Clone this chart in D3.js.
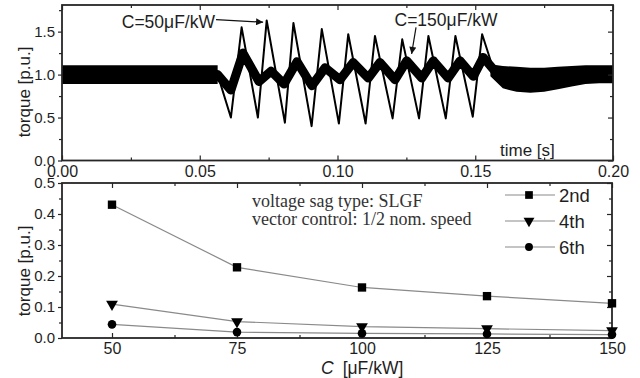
<!DOCTYPE html>
<html>
<head>
<meta charset="utf-8">
<script src="https://cdn.jsdelivr.net/npm/d3@7"></script>
<style>
  body { margin: 0; background: #fff; }
  text { font-family: "Liberation Sans", Arial, sans-serif; fill: #1e1e1e; }
  .serif { font-family: "Liberation Serif", "Times New Roman", serif; fill: #333; }
</style>
</head>
<body>
<svg id="chart" width="640" height="378"></svg>
<script>
// ---- upper panel: torque vs time ----
// steady-state ripple band before the sag
var preT = [0.0, 0.0565];
var preHi = [1.11, 1.11];
var preLo = [0.89, 0.89];
// ripple band after the sag is cleared
var postT = [0.1555, 0.160, 0.165, 0.170, 0.175, 0.180, 0.185, 0.190, 0.195, 0.200];
var postHi = [1.12, 1.10, 1.09, 1.08, 1.08, 1.09, 1.10, 1.11, 1.11, 1.11];
var postLo = [0.98, 0.84, 0.80, 0.79, 0.80, 0.83, 0.86, 0.89, 0.90, 0.90];
// C = 50 uF/kW (thin trace, large swing)
var c50T = [0.0550, 0.0565, 0.0613, 0.0652, 0.0711, 0.0743, 0.0809, 0.0840, 0.0906, 0.0943,
            0.1005, 0.1039, 0.1102, 0.1136, 0.1200, 0.1235, 0.1296, 0.1330, 0.1393, 0.1428,
            0.1491, 0.1525, 0.1560, 0.1580];
var c50V = [1.00, 1.00, 0.50, 1.55, 0.50, 1.63, 0.44, 1.60, 0.40, 1.53,
            0.43, 1.47, 0.43, 1.45, 0.49, 1.41, 0.49, 1.45, 0.49, 1.45,
            0.51, 1.47, 1.12, 1.02];
// C = 150 uF/kW (thick trace, small swing)
var c150T = [0.0550, 0.0565, 0.0613, 0.0657, 0.0715, 0.0759, 0.0806, 0.0853, 0.0907, 0.0955,
             0.1009, 0.1057, 0.1112, 0.1154, 0.1209, 0.1251, 0.1306, 0.1348, 0.1402, 0.1445,
             0.1493, 0.1529, 0.1566, 0.1590];
var c150V = [1.00, 1.00, 0.82, 1.25, 0.92, 1.04, 0.89, 1.15, 0.87, 1.08,
             0.94, 1.14, 0.96, 1.14, 0.94, 1.16, 0.96, 1.16, 0.96, 1.16,
             0.98, 1.20, 1.06, 0.98];
var timeTicks = [0, 0.05, 0.10, 0.15, 0.20];
var timeMinor = [0.025, 0.075, 0.125, 0.175];
var torqueTicks = [0, 0.5, 1.0, 1.5];
var torqueMinor = [0.25, 0.75, 1.25, 1.75];

// ---- lower panel: harmonic torque vs capacitance ----
var capC = [50, 75, 100, 125, 150];
var h2nd = [0.430, 0.228, 0.163, 0.135, 0.112];
var h4th = [0.109, 0.053, 0.037, 0.030, 0.024];
var h6th = [0.044, 0.019, 0.015, 0.013, 0.011];
var harmNames = ["2nd", "4th", "6th"];
var capTicks = [50, 75, 100, 125, 150];
var capMinor = [62.5, 87.5, 112.5, 137.5];
var harmTicks = [0, 0.1, 0.2, 0.3, 0.4, 0.5];
var harmMinor = [0.05, 0.15, 0.25, 0.35, 0.45];

var svg = d3.select("#chart");
var ink = "#262626";

// scales
var xT = d3.scaleLinear().domain([0, 0.2]).range([62, 613]);
var yT = d3.scaleLinear().domain([0, 1.81]).range([160.5, 5]);
var xB = d3.scaleLinear().domain([40, 150]).range([62, 612]);
var yB = d3.scaleLinear().domain([0, 0.5]).range([338, 183]);

svg.append("clipPath").attr("id", "clipTop")
  .append("rect").attr("x", 62).attr("y", 5).attr("width", 551).attr("height", 155.5);

var gTop = svg.append("g").attr("clip-path", "url(#clipTop)");

var band = d3.area()
  .x(function (d) { return xT(d.t); })
  .y0(function (d) { return yT(d.lo); })
  .y1(function (d) { return yT(d.hi); });

var pre = preT.map(function (t, i) { return { t: t, hi: preHi[i], lo: preLo[i] }; });
var post = postT.map(function (t, i) { return { t: t, hi: postHi[i], lo: postLo[i] }; });

gTop.append("path").datum(pre).attr("d", band).attr("fill", "#000");
gTop.append("path").datum(post).attr("d", band).attr("fill", "#000");

var line = d3.line()
  .x(function (d) { return xT(d[0]); })
  .y(function (d) { return yT(d[1]); });

gTop.append("path")
  .datum(c150T.map(function (t, i) { return [t, c150V[i]]; }))
  .attr("d", line)
  .attr("fill", "none").attr("stroke", "#000")
  .attr("stroke-width", 9).attr("stroke-linejoin", "round");

gTop.append("path")
  .datum(c50T.map(function (t, i) { return [t, c50V[i]]; }))
  .attr("d", line)
  .attr("fill", "none").attr("stroke", "#000")
  .attr("stroke-width", 2).attr("stroke-linejoin", "round");

// axes helper: major + minor ticks, frame drawn separately
function ticks(g, axis, fs) {
  g.call(axis);
  g.select(".domain").remove();
  g.selectAll(".tick line").attr("stroke", ink).attr("stroke-width", 1.2);
  g.selectAll(".tick text").attr("font-size", fs || 15).attr("fill", "#1e1e1e")
    .style("font-family", "\"Liberation Sans\", Arial, sans-serif");
}

function panelAxes(x, y, xMaj, xMin, yMaj, yMin, xFmt, yFmt) {
  var x0 = x.range()[0], x1 = x.range()[1];
  var y0 = y.range()[0], y1 = y.range()[1];
  ticks(svg.append("g").attr("transform", "translate(0," + y0 + ")"),
    d3.axisBottom(x).tickValues(xMaj).tickFormat(xFmt).tickSizeInner(-5).tickSizeOuter(0).tickPadding(5), 16);
  ticks(svg.append("g").attr("transform", "translate(0," + y0 + ")"),
    d3.axisBottom(x).tickValues(xMin).tickFormat("").tickSizeInner(-3).tickSizeOuter(0));
  ticks(svg.append("g").attr("transform", "translate(0," + y1 + ")"),
    d3.axisTop(x).tickValues(xMaj).tickFormat("").tickSizeInner(-5).tickSizeOuter(0));
  ticks(svg.append("g").attr("transform", "translate(0," + y1 + ")"),
    d3.axisTop(x).tickValues(xMin).tickFormat("").tickSizeInner(-3).tickSizeOuter(0));
  ticks(svg.append("g").attr("transform", "translate(" + x0 + ",0)"),
    d3.axisLeft(y).tickValues(yMaj).tickFormat(yFmt).tickSizeInner(4).tickSizeOuter(0).tickPadding(3), 15);
  ticks(svg.append("g").attr("transform", "translate(" + x0 + ",0)"),
    d3.axisLeft(y).tickValues(yMin).tickFormat("").tickSizeInner(3).tickSizeOuter(0));
  ticks(svg.append("g").attr("transform", "translate(" + x1 + ",0)"),
    d3.axisRight(y).tickValues(yMaj).tickFormat("").tickSizeInner(-5).tickSizeOuter(0));
  ticks(svg.append("g").attr("transform", "translate(" + x1 + ",0)"),
    d3.axisRight(y).tickValues(yMin).tickFormat("").tickSizeInner(-3).tickSizeOuter(0));
  svg.append("rect")
    .attr("x", x0).attr("y", y1).attr("width", x1 - x0).attr("height", y0 - y1)
    .attr("fill", "none").attr("stroke", ink).attr("stroke-width", 1.8);
}

panelAxes(xT, yT, timeTicks, timeMinor, torqueTicks, torqueMinor, d3.format(".2f"), d3.format(".1f"));

// arrows + labels in the upper panel
svg.append("defs").append("marker")
  .attr("id", "arr").attr("viewBox", "0 0 10 10").attr("refX", 10).attr("refY", 5)
  .attr("markerWidth", 9).attr("markerHeight", 7).attr("markerUnits", "userSpaceOnUse")
  .attr("orient", "auto")
  .append("path").attr("d", "M0,0L10,5L0,10Z").attr("fill", "#111");

svg.append("line")
  .attr("x1", xT(0.0559)).attr("y1", yT(1.64)).attr("x2", xT(0.0730)).attr("y2", yT(1.61))
  .attr("stroke", "#111").attr("stroke-width", 1.2).attr("marker-end", "url(#arr)");
svg.append("line")
  .attr("x1", xT(0.1285)).attr("y1", yT(1.55)).attr("x2", xT(0.1269)).attr("y2", yT(1.24))
  .attr("stroke", "#111").attr("stroke-width", 1.2).attr("marker-end", "url(#arr)");

svg.append("text").attr("x", 215).attr("y", 28).attr("text-anchor", "end")
  .attr("font-size", 17.5).text("C=50\u03bcF/kW");
svg.append("text").attr("x", 446).attr("y", 26).attr("text-anchor", "middle")
  .attr("font-size", 17.5).text("C=150\u03bcF/kW");
svg.append("text").attr("x", 500).attr("y", 156)
  .attr("font-size", 17).text("time [s]");
svg.append("text").attr("transform", "translate(30,92) rotate(-90)").attr("text-anchor", "middle")
  .attr("font-size", 17).text("torque [p.u.]");

// ---- lower panel ----
panelAxes(xB, yB, capTicks, capMinor, harmTicks, harmMinor, d3.format("d"), d3.format(".1f"));

var series = [h2nd, h4th, h6th];
var shapes = [d3.symbolSquare, d3.symbolTriangle, d3.symbolCircle];
var sizes = [70, 60, 58];
var lineB = d3.line()
  .x(function (d) { return xB(d[0]); })
  .y(function (d) { return yB(d[1]); });

series.forEach(function (vals, k) {
  var pts = capC.map(function (c, i) { return [c, vals[i]]; });
  svg.append("path").datum(pts).attr("d", lineB)
    .attr("fill", "none").attr("stroke", "#8a8a8a").attr("stroke-width", 1.2);
  svg.selectAll(".m" + k).data(pts).enter().append("path")
    .attr("transform", function (d) {
      return "translate(" + xB(d[0]) + "," + yB(d[1]) + ")" + (k === 1 ? " rotate(180)" : "");
    })
    .attr("d", d3.symbol().type(shapes[k]).size(sizes[k]))
    .attr("fill", "#000");
});

// legend
harmNames.forEach(function (name, k) {
  var ly = 195 + k * 26;
  svg.append("line").attr("x1", 505).attr("x2", 555).attr("y1", ly).attr("y2", ly)
    .attr("stroke", "#8a8a8a").attr("stroke-width", 1.2);
  svg.append("path")
    .attr("transform", "translate(529," + ly + ")" + (k === 1 ? " rotate(180)" : ""))
    .attr("d", d3.symbol().type(shapes[k]).size(sizes[k] * 0.85))
    .attr("fill", "#000");
  svg.append("text").attr("x", 559).attr("y", ly + 7).attr("font-size", 18.5).text(name);
});

svg.append("text").attr("class", "serif").attr("x", 252).attr("y", 207)
  .attr("font-size", 18).text("voltage sag type: SLGF");
svg.append("text").attr("class", "serif").attr("x", 252).attr("y", 224.5)
  .attr("font-size", 18).text("vector control: 1/2 nom. speed");

svg.append("text").attr("transform", "translate(30,271) rotate(-90)").attr("text-anchor", "middle")
  .attr("font-size", 17).text("torque [p.u.]");

var xl = svg.append("text").attr("x", 321).attr("y", 374).attr("font-size", 17.5);
xl.append("tspan").attr("font-style", "italic").text("C");
xl.append("tspan").attr("dx", 9).text("[\u03bcF/kW]");
</script>
</body>
</html>
